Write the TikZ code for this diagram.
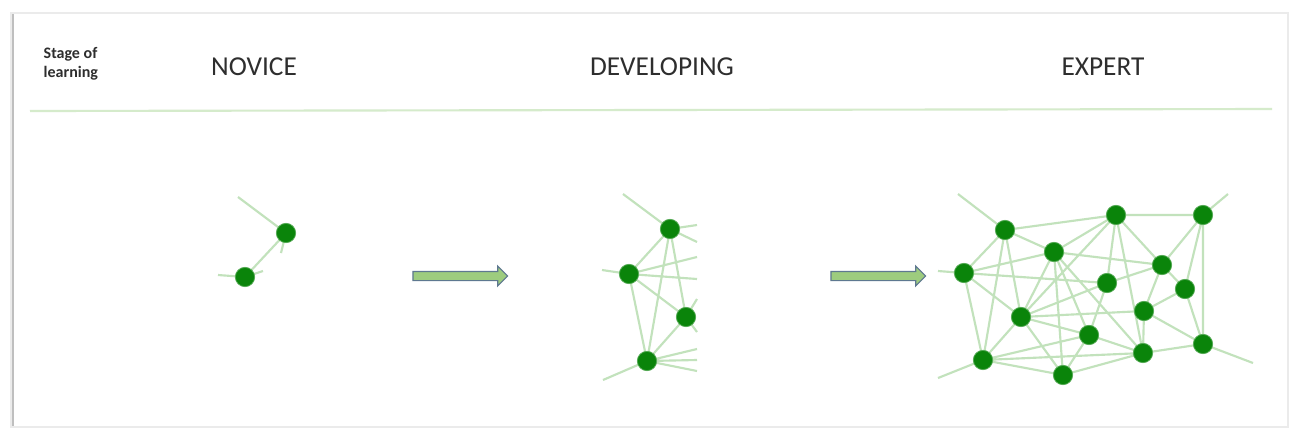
\documentclass[tikz,border=0pt]{standalone}
\usepackage{fontspec}
\setmainfont{Carlito}
\usetikzlibrary{shapes.arrows}
\definecolor{nodegreen}{HTML}{0A840A}
\definecolor{linkgreen}{HTML}{C2E2BC}
\definecolor{sepgreen}{HTML}{D5EBCB}
\definecolor{txtgrey}{HTML}{2E2E2E}
\definecolor{arrfill}{HTML}{9DCC7E}
\definecolor{arrdraw}{HTML}{5E7890}
\begin{document}
\begin{tikzpicture}[x=0.75pt,y=-0.75pt,
  dot/.style={circle,fill=nodegreen,draw=nodegreen!70!white,line width=0.6pt,inner sep=0pt,minimum size=14.5pt},
  link/.style={draw=linkgreen,line width=1.6pt},
  stagetitle/.style={font=\fontsize{20.5}{24}\selectfont,text=txtgrey,anchor=center},
  blockarrow/.style={single arrow,fill=arrfill,draw=arrdraw,line width=0.9pt,minimum height=71pt,minimum width=14pt,inner xsep=0pt,inner ysep=3pt,single arrow head extend=4pt,single arrow tip angle=90}]
\useasboundingbox (0,0) rectangle (1290,430);
\fill[white] (0,0) rectangle (1290,430);
% card
\fill[black!8] (10,12) rectangle (1289,428);
\fill[white] (13,14) rectangle (1287,426);
\draw[black!25,line width=1.4pt] (13,14) -- (13,426);
% header texts
\node[font=\bfseries\fontsize{12}{14}\selectfont,text=txtgrey,align=left,anchor=west] (stage) at (39,64) {Stage of\\learning};
\node[stagetitle] (novice) at (254,67) {NOVICE};
\node[stagetitle] (developing) at (662,67) {DEVELOPING};
\node[stagetitle] (expert) at (1103,67) {EXPERT};
% separator
\draw[sepgreen,line width=1.6pt] (30,111) -- (1272,109);
% arrows
\node[blockarrow] (arr1) at (458,276) {};
\node[blockarrow] (arr2) at (876,276) {};
% ---------- NOVICE ----------
\coordinate (n1a) at (238,197);
\coordinate (n1b) at (281,253);
\coordinate (n2a) at (218,275);
\coordinate (n2b) at (263,271);
\path[link] (286,233) -- (n1a) (286,233) -- (n1b) (286,233) -- (245,277)
            (245,277) -- (n2a) (245,277) -- (n2b);
\node[dot] (n1) at (286,233) {};
\node[dot] (n2) at (245,277) {};
% ---------- DEVELOPING ----------
\coordinate (d1a) at (623,194);
\coordinate (d1b) at (697,225);
\coordinate (d1c) at (697,242);
\coordinate (d2a) at (602,270);
\coordinate (d2b) at (697,257);
\coordinate (d2c) at (697,279);
\coordinate (d3a) at (697,299);
\coordinate (d3b) at (697,332);
\coordinate (d4a) at (603,380);
\coordinate (d4b) at (697,349);
\coordinate (d4c) at (697,360);
\coordinate (d4d) at (697,371);
\coordinate (P1) at (670,229);
\coordinate (P2) at (629,274);
\coordinate (P3) at (686,317);
\coordinate (P4) at (647,361);
\path[link] (P1) -- (d1a) (P1) -- (d1b) (P1) -- (d1c) (P1) -- (P2) (P1) -- (P4) (P1) -- (P3)
  (P2) -- (d2a) (P2) -- (d2b) (P2) -- (d2c) (P2) -- (P3) (P2) -- (P4)
  (P3) -- (d3a) (P3) -- (d3b) (P3) -- (P4)
  (P4) -- (d4a) (P4) -- (d4b) (P4) -- (d4c) (P4) -- (d4d);
\node[dot] (p1) at (P1) {};
\node[dot] (p2) at (P2) {};
\node[dot] (p3) at (P3) {};
\node[dot] (p4) at (P4) {};
% ---------- EXPERT ----------
\coordinate (A) at (1005,230);
\coordinate (B) at (1054,252);
\coordinate (C) at (964,273);
\coordinate (D) at (1116,215);
\coordinate (E) at (1203,215);
\coordinate (F) at (1162,265);
\coordinate (G) at (1107,283);
\coordinate (H) at (1185,289);
\coordinate (I) at (1144,311);
\coordinate (J) at (1021,317);
\coordinate (K) at (1089,335);
\coordinate (L) at (983,360);
\coordinate (M) at (1063,375);
\coordinate (N) at (1143,353);
\coordinate (O) at (1203,344);
\coordinate (Aout) at (958,194);
\coordinate (Cout) at (938,271);
\coordinate (Lout) at (938,378);
\coordinate (Eout) at (1228,194);
\coordinate (Oout) at (1253,363);
\path[link]
  (A) -- (Aout) (A) -- (C) (A) -- (B) (A) -- (D) (A) -- (J) (A) -- (L)
  (B) -- (C) (B) -- (D) (B) -- (F) (B) -- (J) (B) -- (M) (B) -- (K) (B) -- (N)
  (C) -- (Cout) (C) -- (G) (C) -- (J) (C) -- (L)
  (D) -- (E) (D) -- (J) (D) -- (G) (D) -- (N) (D) -- (F)
  (E) -- (Eout) (E) -- (F) (E) -- (H) (E) -- (O)
  (F) -- (G) (F) -- (H) (F) -- (I)
  (G) -- (K) (G) -- (J)
  (H) -- (I) (H) -- (O)
  (I) -- (J) (I) -- (N) (I) -- (O)
  (J) -- (K) (J) -- (L) (J) -- (M)
  (K) -- (L) (K) -- (M) (K) -- (N)
  (L) -- (Lout) (L) -- (M) (L) -- (N)
  (M) -- (N)
  (N) -- (O) (O) -- (Oout);
\foreach \v in {A,B,C,D,E,F,G,H,I,J,K,L,M,N,O}
  \node[dot] (e\v) at (\v) {};
\end{tikzpicture}
\end{document}
